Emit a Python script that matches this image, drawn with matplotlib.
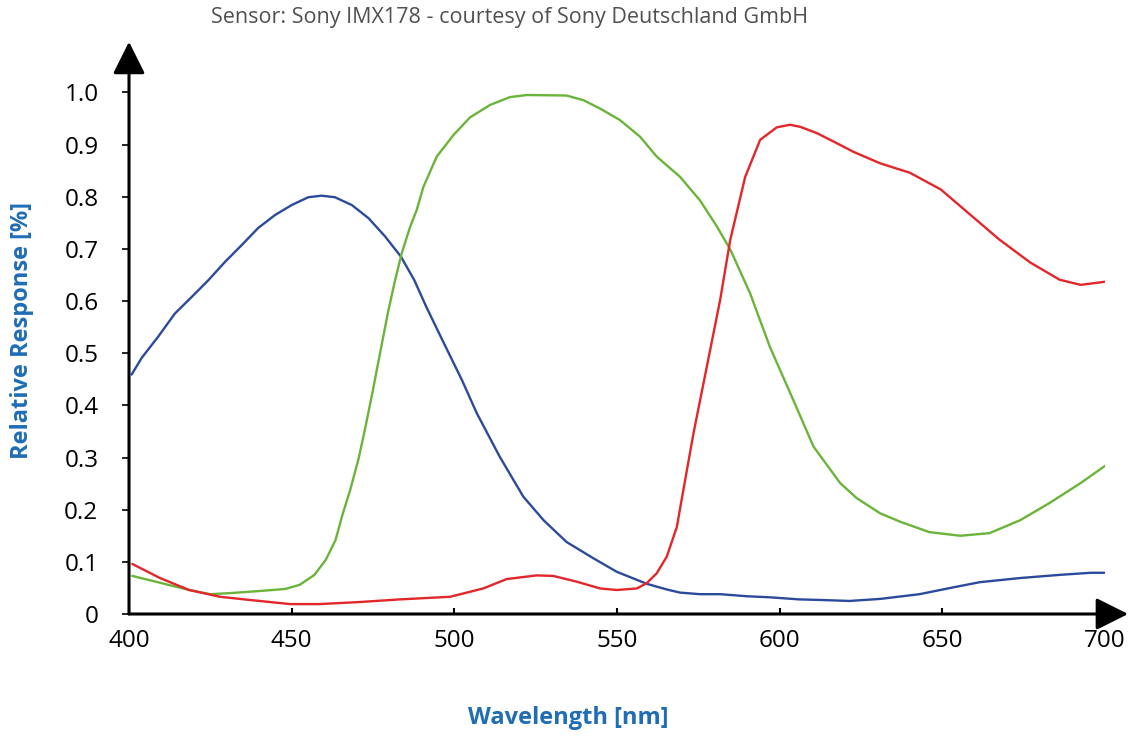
import matplotlib
matplotlib.use("Agg")
import matplotlib.pyplot as plt

# ---- data ----
blue_x = [400.8, 403.9, 409.0, 414.1, 419.3, 424.4, 429.5, 434.6, 439.7, 444.9, 450.0,
          455.1, 459.2, 463.3, 468.5, 473.6, 478.7, 483.6, 487.7, 491.3, 496.1, 502.3,
          506.9, 514.0, 521.2, 527.4, 534.5, 542.7, 549.9, 559.1, 565.3, 569.4, 575.5,
          581.7, 590.0, 597.0, 606.0, 612.0, 621.5, 631.0, 643.0, 652.5, 661.5, 674.0,
          686.0, 695.5, 700.0]
blue_y = [0.459, 0.491, 0.532, 0.576, 0.608, 0.640, 0.675, 0.707, 0.740, 0.765, 0.784,
          0.799, 0.802, 0.799, 0.784, 0.759, 0.724, 0.685, 0.640, 0.590, 0.528, 0.449,
          0.385, 0.301, 0.225, 0.180, 0.138, 0.107, 0.081, 0.058, 0.047, 0.041, 0.038,
          0.038, 0.034, 0.032, 0.028, 0.027, 0.025, 0.029, 0.038, 0.050, 0.061, 0.069,
          0.075, 0.079, 0.079]

green_x = [401, 409.5, 418.5, 425, 431, 440, 448, 452.5, 457, 460.5, 463.5, 465.5, 468,
           470.5, 472.5, 475, 478.0, 479.7, 481.8, 483.8, 486.4, 488.4, 490.5, 494.6,
           499.7, 504.8, 511.0, 517.1, 522.3, 534.5, 539.7, 544.8, 550.9, 557.1, 562.2,
           569.4, 575.5, 580.7, 584.8, 590.9, 597.0, 604.2, 610.4, 618.6, 623.7, 630.9,
           637, 646, 655.5, 664.5, 674, 683, 692.5, 700]
green_y = [0.073, 0.060, 0.046, 0.038, 0.040, 0.044, 0.048, 0.056, 0.075, 0.104, 0.142,
           0.188, 0.238, 0.296, 0.353, 0.430, 0.527, 0.581, 0.640, 0.691, 0.742, 0.774,
           0.819, 0.877, 0.918, 0.952, 0.976, 0.991, 0.995, 0.994, 0.985, 0.969, 0.947,
           0.915, 0.877, 0.838, 0.793, 0.743, 0.699, 0.615, 0.512, 0.410, 0.321, 0.251,
           0.222, 0.193, 0.177, 0.157, 0.150, 0.155, 0.180, 0.213, 0.251, 0.284]

red_x = [401, 409.5, 418.5, 428, 437, 449.5, 458.5, 471, 483.3, 498.7, 508.9, 516.1,
         525.3, 530.4, 537.6, 544.8, 549.9, 556.1, 559.1, 562.2, 565.3, 568.4, 570.4,
         573.5, 577.6, 581.7, 584.8, 589.4, 594.0, 599.1, 603.2, 606.3, 611.4, 616.5,
         622.7, 630.9, 640, 649.5, 658.5, 667.5, 677, 686, 692.5, 700]
red_y = [0.096, 0.069, 0.046, 0.033, 0.027, 0.019, 0.019, 0.023, 0.028, 0.033, 0.049,
         0.067, 0.074, 0.073, 0.062, 0.049, 0.046, 0.049, 0.059, 0.078, 0.110, 0.167,
         0.238, 0.346, 0.474, 0.602, 0.717, 0.838, 0.909, 0.933, 0.938, 0.934, 0.922,
         0.906, 0.886, 0.864, 0.846, 0.814, 0.766, 0.718, 0.674, 0.641, 0.631, 0.637]

x_ticks = [400, 450, 500, 550, 600, 650, 700]
y_ticks = [0, 0.1, 0.2, 0.3, 0.4, 0.5, 0.6, 0.7, 0.8, 0.9, 1.0]
y_tick_labels = ["0", "0.1", "0.2", "0.3", "0.4", "0.5", "0.6", "0.7", "0.8", "0.9", "1.0"]

title = "Sensor: Sony IMX178 - courtesy of Sony Deutschland GmbH"
xlabel = "Wavelength [nm]"
ylabel = "Relative Response [%]"

plt.rcParams['font.family'] = ['Open Sans', 'DejaVu Sans']

W, H = 1142, 736
fig = plt.figure(figsize=(W / 100, H / 100), dpi=100)
left = 129 / W
right = 1105 / W
bottom = 1 - 614 / H
top = 1 - 92.4 / H
ax = fig.add_axes([left, bottom, right - left, top - bottom])

ax.plot(blue_x, blue_y, color="#2c4a9c", lw=1.7, solid_capstyle="round", solid_joinstyle="round")
ax.plot(green_x, green_y, color="#6ab43a", lw=1.7, solid_capstyle="round", solid_joinstyle="round")
ax.plot(red_x, red_y, color="#e3262a", lw=1.7, solid_capstyle="round", solid_joinstyle="round")

ax.set_xlim(400, 700)
ax.set_ylim(0, 1.0)
for s in ax.spines.values():
    s.set_visible(False)

ax.set_xticks(x_ticks)
ax.set_xticklabels([str(v) for v in x_ticks])
ax.set_yticks(y_ticks)
ax.set_yticklabels(y_tick_labels)
ax.tick_params(axis="x", direction="in", length=4, width=1.5, pad=11, labelsize=17.5)
ax.tick_params(axis="y", direction="out", length=5, width=1.2, pad=17, labelsize=17.5)

# axes with arrows
arrowprops = dict(arrowstyle="-|>,head_length=0.9,head_width=0.45", color="black",
                  lw=2.2, mutation_scale=22, shrinkA=0, shrinkB=0)
ax.annotate("", xy=(400, 1.097), xytext=(400, 0), xycoords="data", textcoords="data",
            arrowprops=arrowprops, annotation_clip=False)
ax.annotate("", xy=(707.1, 0), xytext=(400, 0), xycoords="data", textcoords="data",
            arrowprops=arrowprops, annotation_clip=False)

fig.text(509.5 / W, 1 - 18 / H, title, ha="center", va="center", fontsize=15.5,
         color="#505050")
fig.text(568 / W, 1 - 718 / H, xlabel, ha="center", va="center", fontsize=17,
         fontweight="bold", color="#1f6db5")
fig.text(22 / W, 1 - 330 / H, ylabel, ha="center", va="center", fontsize=17,
         fontweight="bold", color="#1f6db5", rotation=90)

fig.savefig("out.png", dpi=100)
